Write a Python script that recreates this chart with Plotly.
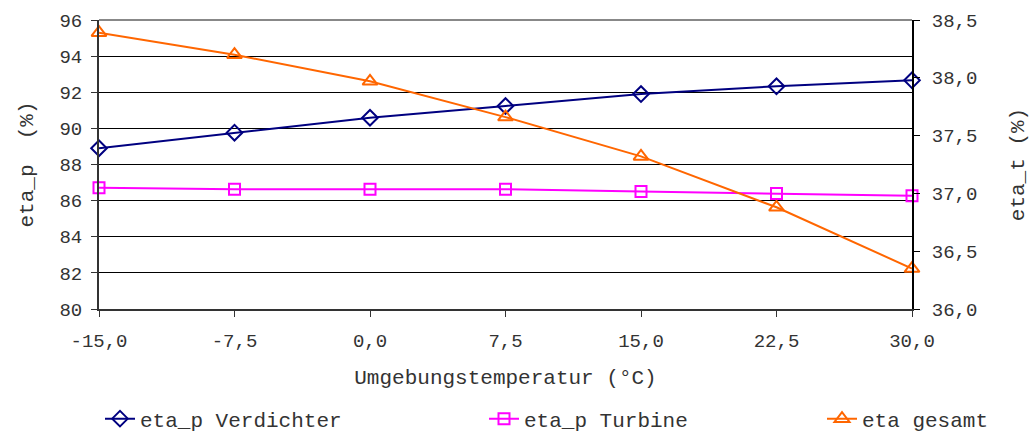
import plotly.graph_objects as go

temps = [-15.0, -7.5, 0.0, 7.5, 15.0, 22.5, 30.0]
x_tick_labels = ["-15,0", "-7,5", "0,0", "7,5", "15,0", "22,5", "30,0"]
eta_p_verdichter = [88.90, 89.76, 90.59, 91.24, 91.90, 92.33, 92.66]
eta_p_turbine = [86.71, 86.63, 86.63, 86.63, 86.50, 86.40, 86.27]
eta_gesamt = [38.39, 38.20, 37.97, 37.66, 37.32, 36.88, 36.35]

FONT = "Liberation Mono, Courier New, monospace"
TXT = "#333333"
FS_TICK = 19
FS = 21

fig = go.Figure()
fig.add_trace(go.Scatter(
    x=temps, y=eta_p_verdichter, name="eta_p Verdichter", mode="lines+markers",
    line=dict(color="#000080", width=2),
    marker=dict(symbol="diamond-open", size=12, color="#000080", line=dict(width=2)),
    cliponaxis=False, legend="legend"))
fig.add_trace(go.Scatter(
    x=temps, y=eta_p_turbine, name="eta_p Turbine", mode="lines+markers",
    line=dict(color="#FF00FF", width=2),
    marker=dict(symbol="square-open", size=11, color="#FF00FF", line=dict(width=2)),
    cliponaxis=False, legend="legend2"))
fig.add_trace(go.Scatter(
    x=temps, y=eta_gesamt, name="eta gesamt", mode="lines+markers", yaxis="y2",
    line=dict(color="#FF6600", width=2),
    marker=dict(symbol="triangle-up-open", size=13, color="#FF6600", line=dict(width=2)),
    cliponaxis=False, legend="legend3"))

leg_common = dict(orientation="h", xanchor="left", yanchor="middle",
                  xref="container", yref="container",
                  font=dict(family=FONT, size=FS, color=TXT),
                  bgcolor="rgba(0,0,0,0)", itemwidth=30)

fig.update_layout(
    width=1030, height=432,
    margin=dict(l=99, r=118, t=20, b=123, autoexpand=False),
    paper_bgcolor="white", plot_bgcolor="white",
    separators=",.",
    showlegend=True,
    font=dict(family=FONT, size=FS, color=TXT),
    xaxis=dict(
        range=[-15, 30], tickvals=temps, ticktext=x_tick_labels,
        showgrid=False, zeroline=False, automargin=False,
        showline=True, linecolor="#333333", linewidth=2,
        ticks="outside", ticklen=6, tickcolor="#333333",
        tickfont=dict(family=FONT, size=FS_TICK, color=TXT),
        ticklabelstandoff=7,
        title=dict(text="Umgebungstemperatur (°C)", standoff=18,
                   font=dict(family=FONT, size=FS, color=TXT)),
    ),
    yaxis=dict(
        range=[80, 96], dtick=2, tick0=80,
        showgrid=True, gridcolor="#000000", gridwidth=1, zeroline=False,
        automargin=False,
        showline=True, linecolor="#333333", linewidth=2,
        ticks="outside", ticklen=6, tickcolor="#333333",
        tickfont=dict(family=FONT, size=FS_TICK, color=TXT),
        ticklabelstandoff=5,
        title=dict(text="eta_p  (%)\u00a0", standoff=20,
                   font=dict(family=FONT, size=FS, color=TXT)),
    ),
    yaxis2=dict(
        range=[36, 38.5], dtick=0.5, tick0=36, tickformat=".1f",
        overlaying="y", side="right",
        showgrid=False, zeroline=False, automargin=False,
        showline=True, linecolor="#000000", linewidth=2,
        ticks="outside", ticklen=6, tickcolor="#000000",
        tickfont=dict(family=FONT, size=FS_TICK, color=TXT),
        ticklabelstandoff=8,
        title=dict(text="eta_t (%)", standoff=34,
                   font=dict(family=FONT, size=FS, color=TXT)),
    ),
    legend=dict(x=100 / 1030, y=1 - 419 / 432, **leg_common),
    legend2=dict(x=484 / 1030, y=1 - 419 / 432, **leg_common),
    legend3=dict(x=822 / 1030, y=1 - 419 / 432, **leg_common),
    shapes=[dict(type="line", xref="paper", yref="paper", x0=0, x1=1, y0=1, y1=1,
                 line=dict(color="#888888", width=2))],
)

fig.write_html("out.html")
